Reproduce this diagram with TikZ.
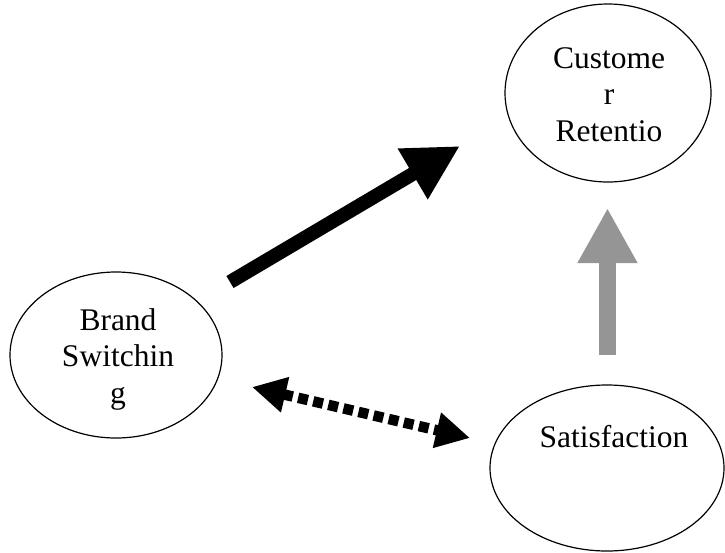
\documentclass[tikz,border=0pt]{standalone}
\usepackage{fontspec}
\setmainfont{Liberation Serif}
\usetikzlibrary{arrows.meta,shapes.geometric}
\definecolor{arrowgray}{RGB}{149,149,149}
\tikzset{
  concept/.style={draw=black, line width=1.2pt, ellipse, inner sep=0pt},
  label text/.style={align=center, anchor=base, inner sep=0pt,
    font=\fontsize{31.5}{36.5}\selectfont},
  bold link/.style={line width=14pt, -{Triangle[length=55pt,width=55pt]}},
  dotted link/.style={line width=10.5pt, dash pattern=on 10pt off 5.5pt,
    {Triangle[length=34pt,width=34pt]}-{Triangle[length=34pt,width=34pt]}},
  gray link/.style={line width=17pt, arrowgray, -{Triangle[length=55pt,width=56pt]}}
}
\begin{document}
\begin{tikzpicture}[x=1pt, y=-1pt]
  \useasboundingbox (0,0) rectangle (725,552);

  % concepts
  \node[concept, minimum width=206pt, minimum height=178pt] (cust) at (608,93) {};
  \node[concept, minimum width=212pt, minimum height=166pt] (brand) at (116,355) {};
  \node[concept, minimum width=234pt, minimum height=166pt] (sat) at (607,468) {};

  % their labels (base anchor sits on the last line)
  \node[label text] (custtext) at (609,141) {Custome\\r\\Retentio};
  \node[label text] (brandtext) at (118,403) {Brand\\Switchin\\g};
  \node[label text] (sattext) at (614,447) {Satisfaction};

  % connector end points
  \coordinate (bs tail) at (230,282);
  \coordinate (cr head) at (460,146);
  \coordinate (bs end) at (252,387);
  \coordinate (sa end) at (470,438);
  \coordinate (sa tail) at (607.5,355);
  \coordinate (cr foot) at (607.5,208);

  % links
  \draw[bold link] (bs tail) -- (cr head);
  \draw[dotted link] (bs end) -- (sa end);
  \draw[gray link] (sa tail) -- (cr foot);
\end{tikzpicture}
\end{document}
